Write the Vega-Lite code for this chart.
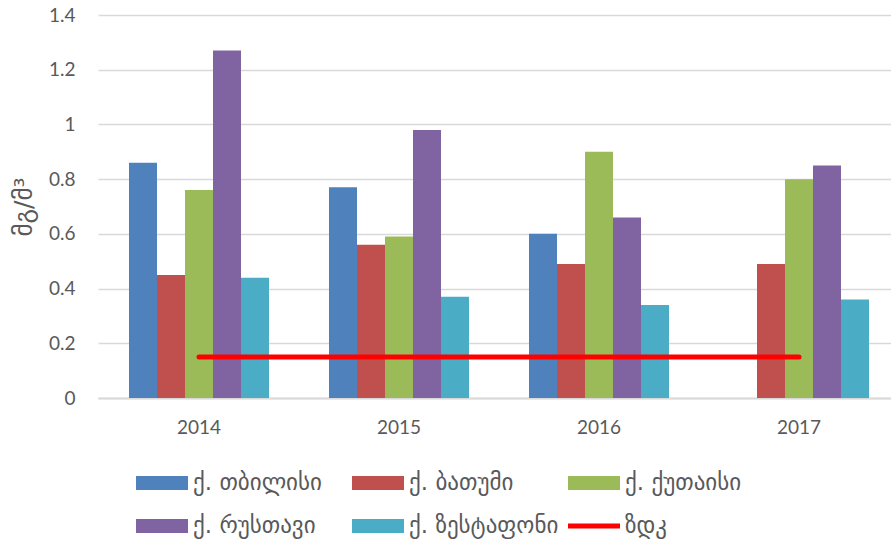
{
  "$schema": "https://vega.github.io/schema/vega-lite/v6.json",
  "width": 793,
  "height": 383,
  "autosize": "none",
  "padding": {"left": 98, "top": 15, "right": 0, "bottom": 150},
  "background": "white",
  "config": {"view": {"stroke": null}, "font": "Lato, DejaVu Sans"},
  "datasets": {
    "bars": [
      {"year": "2014", "city": "ქ. თბილისი", "value": 0.86},
      {"year": "2014", "city": "ქ. ბათუმი", "value": 0.45},
      {"year": "2014", "city": "ქ. ქუთაისი", "value": 0.76},
      {"year": "2014", "city": "ქ. რუსთავი", "value": 1.27},
      {"year": "2014", "city": "ქ. ზესტაფონი", "value": 0.44},
      {"year": "2015", "city": "ქ. თბილისი", "value": 0.77},
      {"year": "2015", "city": "ქ. ბათუმი", "value": 0.56},
      {"year": "2015", "city": "ქ. ქუთაისი", "value": 0.59},
      {"year": "2015", "city": "ქ. რუსთავი", "value": 0.98},
      {"year": "2015", "city": "ქ. ზესტაფონი", "value": 0.37},
      {"year": "2016", "city": "ქ. თბილისი", "value": 0.60},
      {"year": "2016", "city": "ქ. ბათუმი", "value": 0.49},
      {"year": "2016", "city": "ქ. ქუთაისი", "value": 0.90},
      {"year": "2016", "city": "ქ. რუსთავი", "value": 0.66},
      {"year": "2016", "city": "ქ. ზესტაფონი", "value": 0.34},
      {"year": "2017", "city": "ქ. ბათუმი", "value": 0.49},
      {"year": "2017", "city": "ქ. ქუთაისი", "value": 0.80},
      {"year": "2017", "city": "ქ. რუსთავი", "value": 0.85},
      {"year": "2017", "city": "ქ. ზესტაფონი", "value": 0.36}
    ],
    "limit": [
      {"year": "2014", "city": "ზდკ", "value": 0.15},
      {"year": "2015", "city": "ზდკ", "value": 0.15},
      {"year": "2016", "city": "ზდკ", "value": 0.15},
      {"year": "2017", "city": "ზდკ", "value": 0.15}
    ]
  },
  "layer": [
    {
      "data": {"name": "bars"},
      "mark": {"type": "bar"},
      "encoding": {
        "x": {
          "field": "year", "type": "nominal",
          "scale": {"paddingInner": 0.3, "paddingOuter": 0.1325, "align": 0.585},
          "axis": {
            "title": null, "labelAngle": 0, "ticks": false,
            "domainColor": "#d9d9d9", "domainWidth": 2,
            "labelFontSize": 19, "labelColor": "#595959", "labelPadding": 20
          }
        },
        "xOffset": {
          "field": "city", "type": "nominal",
          "scale": {"domain": ["ქ. თბილისი", "ქ. ბათუმი", "ქ. ქუთაისი", "ქ. რუსთავი", "ქ. ზესტაფონი"]}
        },
        "y": {
          "field": "value", "type": "quantitative",
          "scale": {"domain": [0, 1.4]},
          "axis": {
            "title": "მგ/მ³", "values": [0, 0.2, 0.4, 0.6, 0.8, 1, 1.2, 1.4],
            "format": "~g",
            "ticks": false, "domain": false,
            "gridColor": "#d9d9d9", "gridWidth": 1.5,
            "labelFontSize": 19, "labelColor": "#595959", "labelPadding": 23,
            "titleFontSize": 25, "titleFontWeight": "normal", "titleColor": "#595959",
            "titleFont": "DejaVu Sans", "titlePadding": 12
          }
        },
        "color": {
          "field": "city", "type": "nominal",
          "scale": {
            "domain": ["ქ. თბილისი", "ქ. ბათუმი", "ქ. ქუთაისი", "ქ. რუსთავი", "ქ. ზესტაფონი", "ზდკ"],
            "range": ["#4F81BD", "#C0504D", "#9BBB59", "#8064A2", "#4BACC6", "#FF0000"]
          },
          "legend": {
            "title": null, "orient": "none", "legendX": 38, "legendY": 442,
            "direction": "horizontal", "columns": 3, "gridAlign": "all",
            "columnPadding": 9, "rowPadding": 5, "padding": 0,
            "symbolSize": 2704, "labelFontSize": 23, "labelColor": "#595959",
            "labelFont": "DejaVu Sans",
            "labelOffset": 5, "labelLimit": 300,
            "encode": {
              "symbols": {
                "update": {
                  "shape": {"signal": "datum.value === 'ზდკ' ? 'M-1,-0.096L1,-0.096L1,0.096L-1,0.096Z' : 'M-1,-0.27L1,-0.27L1,0.27L-1,0.27Z'"},
                  "fill": {"scale": "color", "field": "value"},
                  "fillOpacity": {"value": 1},
                  "opacity": {"value": 1},
                  "stroke": {"value": "transparent"},
                  "strokeWidth": {"value": 0}
                }
              }
            }
          }
        }
      }
    },
    {
      "data": {"name": "limit"},
      "mark": {"type": "line", "strokeWidth": 5, "strokeCap": "round"},
      "encoding": {
        "x": {"field": "year", "type": "nominal"},
        "y": {"field": "value", "type": "quantitative"},
        "color": {"field": "city", "type": "nominal"}
      }
    }
  ]
}
